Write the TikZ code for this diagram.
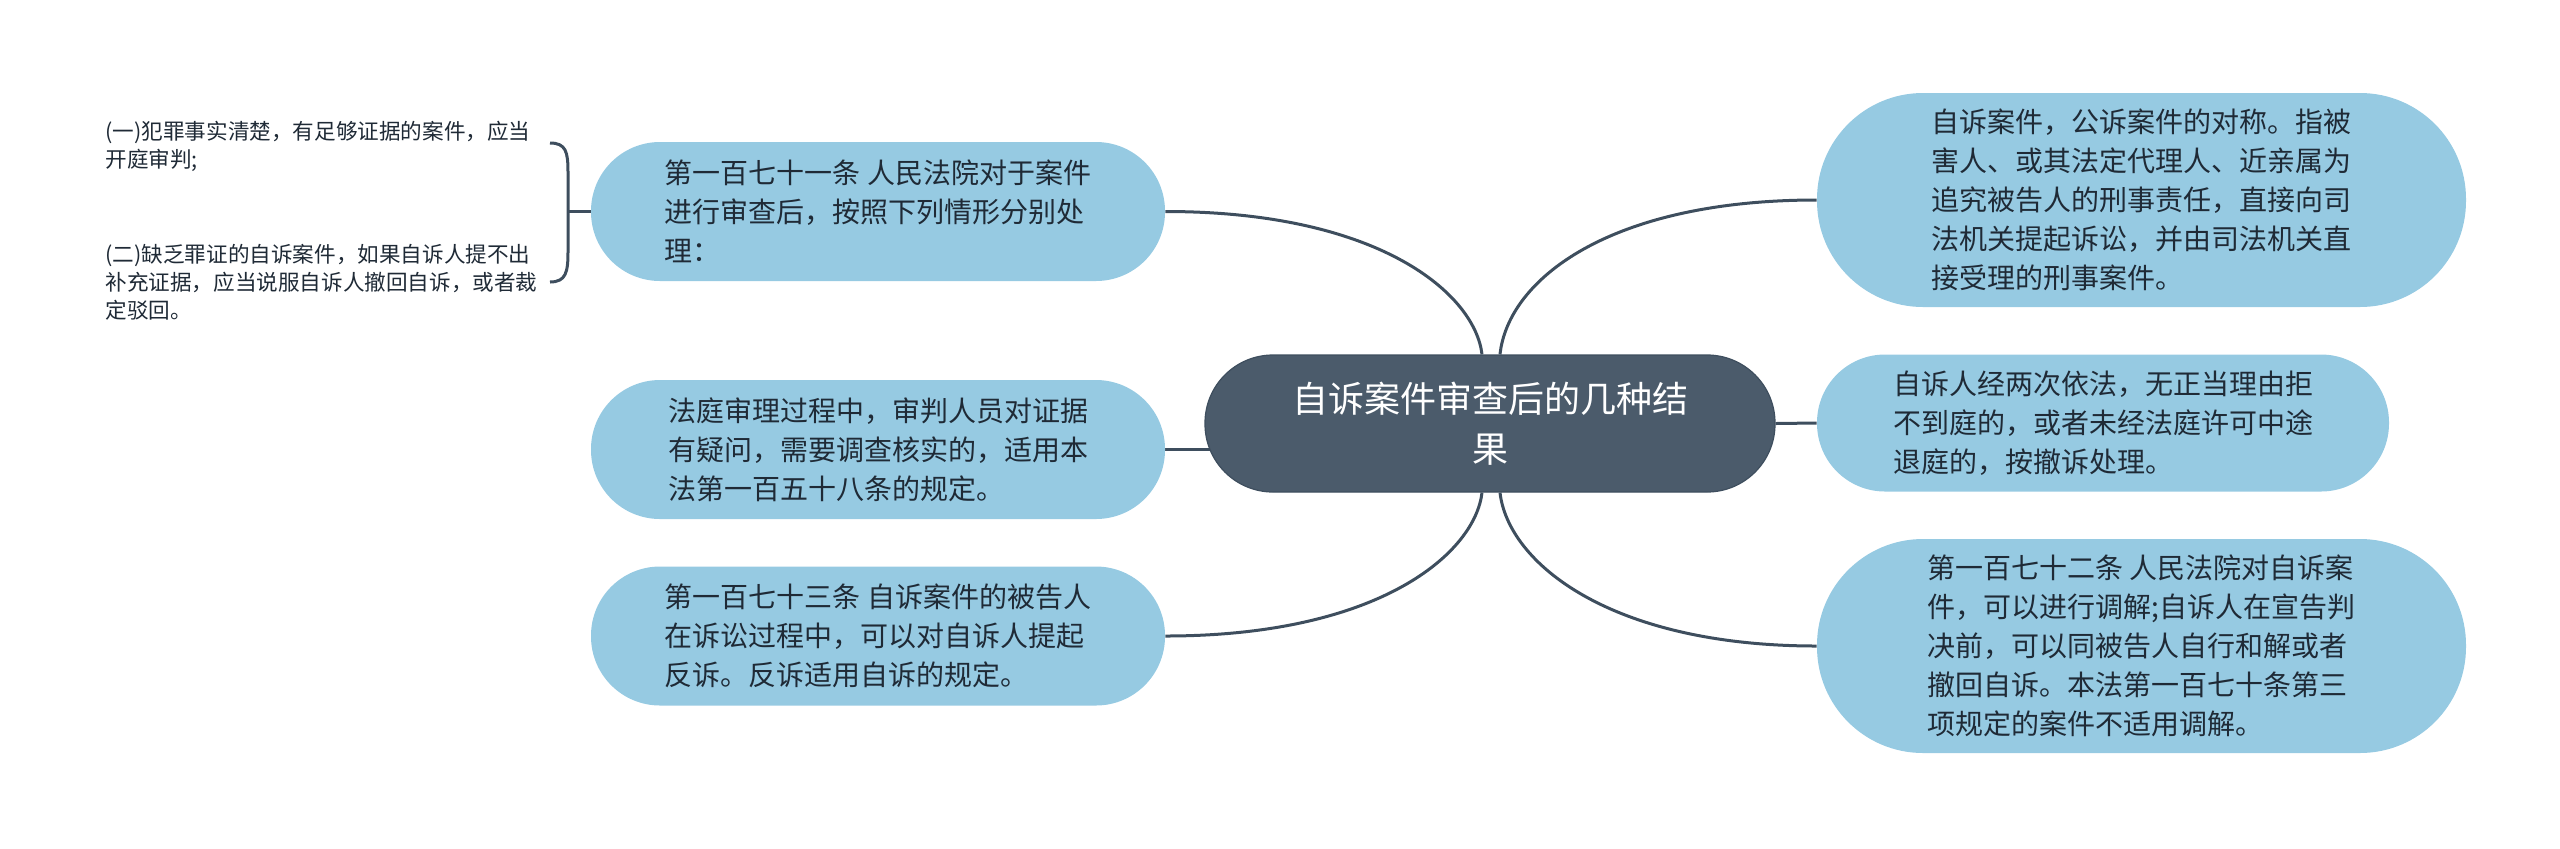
\documentclass[tikz,border=0pt]{standalone}
\usepackage{fontspec}
\newfontfamily\cjk{Noto Sans CJK SC}
\usetikzlibrary{calc,backgrounds}
\definecolor{leafblue}{HTML}{96CAE2}
\definecolor{rootfill}{HTML}{4B5B6B}
\definecolor{linecol}{HTML}{3E4E5E}
\definecolor{txt}{HTML}{1F2A36}
\tikzset{
  topic/.style={fill=leafblue, text=txt, align=left, inner sep=0pt,
    font={\cjk\fontsize{14pt}{19.5pt}\selectfont}},
  rootbox/.style={fill=rootfill, draw=linecol, line width=0.6pt, text=white, align=center, inner sep=0pt,
    minimum width=285pt, minimum height=68.5pt, rounded corners=34pt,
    font={\cjk\fontsize{18pt}{25.3pt}\selectfont}},
  smallbox/.style={topic, minimum width=287pt, minimum height=69.5pt, rounded corners=34.5pt},
  bigbox/.style={topic, minimum width=324.5pt, minimum height=107pt, rounded corners=53pt},
  leaftext/.style={anchor=west, align=left, inner sep=0pt, text=txt,
    font={\cjk\fontsize{10.8pt}{14pt}\selectfont}},
  conn/.style={draw=linecol, line width=1.5pt}
}
\begin{document}
\begin{tikzpicture}[x=0.5pt,y=-0.5pt]
\useasboundingbox (0,0) rectangle (2560,848);
\node[rootbox] (C) at (1490,423.5) {自诉案件审查后的几种结\\果};
\node[smallbox] (L1) at (878,211.5) {第一百七十一条 人民法院对于案件\\进行审查后，按照下列情形分别处\\理：};
\node[smallbox] (L2) at (878,449.5) {法庭审理过程中，审判人员对证据\\有疑问，需要调查核实的，适用本\\法第一百五十八条的规定。};
\node[smallbox] (L3) at (878,636) {第一百七十三条 自诉案件的被告人\\在诉讼过程中，可以对自诉人提起\\反诉。反诉适用自诉的规定。};
\node[bigbox] (R1) at (2141.5,200) {自诉案件，公诉案件的对称。指被\\害人、或其法定代理人、近亲属为\\追究被告人的刑事责任，直接向司\\法机关提起诉讼，并由司法机关直\\接受理的刑事案件。};
\node[smallbox, minimum width=286pt, minimum height=68.5pt, rounded corners=34pt] (R2) at (2103,423) {自诉人经两次依法，无正当理由拒\\不到庭的，或者未经法庭许可中途\\退庭的，按撤诉处理。};
\node[bigbox] (R3) at (2141.5,646) {第一百七十二条 人民法院对自诉案\\件，可以进行调解;自诉人在宣告判\\决前，可以同被告人自行和解或者\\撤回自诉。本法第一百七十条第三\\项规定的案件不适用调解。};
\node[leaftext] (S1) at (105,146) {(一)犯罪事实清楚，有足够证据的案件，应当\\开庭审判;};
\node[leaftext] (S2) at (105,282.5) {(二)缺乏罪证的自诉案件，如果自诉人提不出\\补充证据，应当说服自诉人撤回自诉，或者裁\\定驳回。};
\coordinate (Ctl) at ($(C.north)+(-8,0)$);
\coordinate (Ctr) at ($(C.north)+(10,0)$);
\coordinate (Cbl) at ($(C.south)+(-8,0)$);
\coordinate (Cbr) at ($(C.south)+(10,0)$);
\coordinate (b1) at (550,143);
\coordinate (b2) at (550,282);
\coordinate (bm) at (568,211.5);
\begin{pgfonlayer}{background}
\draw[conn] (Ctl) .. controls +(-7,-60) and +(215,0) .. (L1.east);
\draw[conn] (Ctr) .. controls +(8,-75) and +(-207,0) .. (R1.west);
\draw[conn] (Cbl) .. controls +(-7,60) and +(215,0) .. (L3.east);
\draw[conn] (Cbr) .. controls +(8,70) and +(-207,0) .. (R3.west);
\draw[conn] (L2.east) -- ($(L2.east -| C.west)+(30,0)$);
\draw[conn] (C.east) -- (R2.west);
\draw[conn] (b1) .. controls (566,143) and (568,152) .. (568,172) -- (568,252) .. controls (568,272) and (566,282) .. (b2);
\draw[conn] (bm) -- (L1.west);
\end{pgfonlayer}
\end{tikzpicture}
\end{document}
